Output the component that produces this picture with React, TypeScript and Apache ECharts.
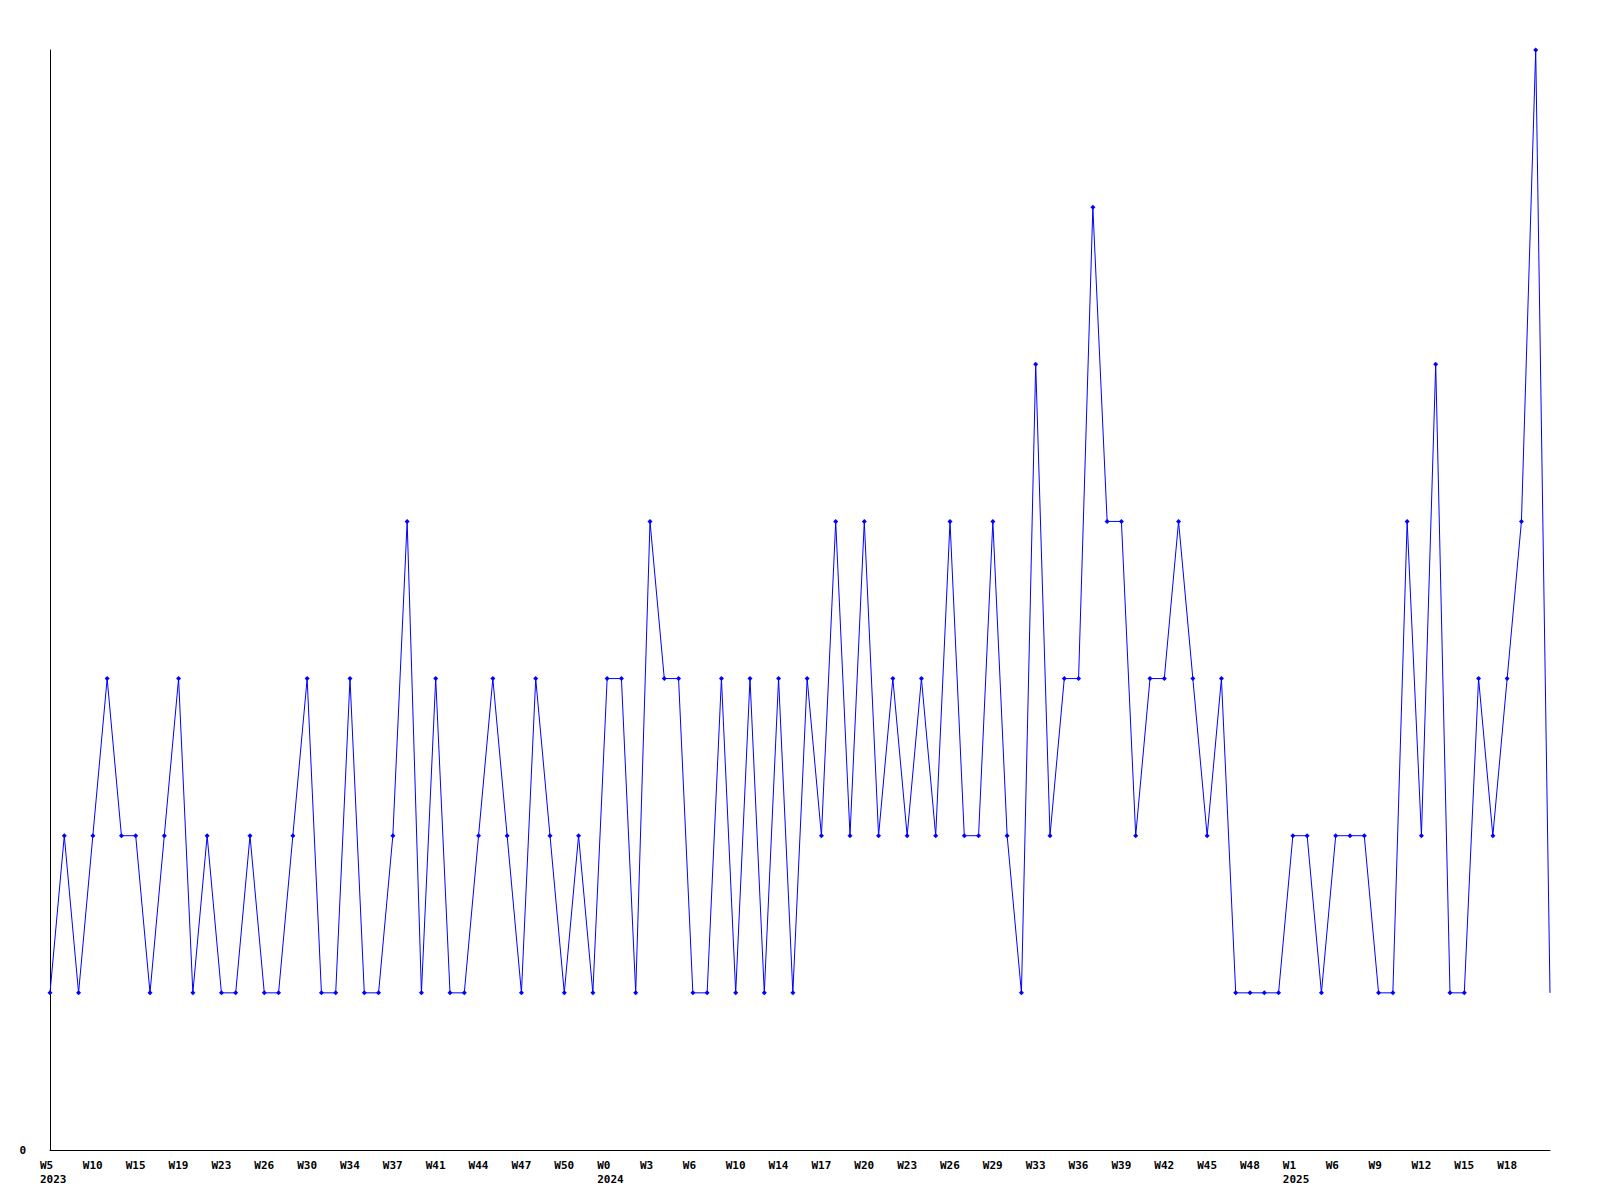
import React, { useEffect, useRef } from "react";
import * as echarts from "echarts";

const weeks2023 = ["W5","W6","W8","W10","W12","W13","W15","W17","W18","W19","W20","W22","W23","W24","W25","W26","W28","W29","W30","W32","W33","W34","W35","W36","W37","W39","W40","W41","W42","W43","W44","W45","W46","W47","W48","W49","W50","W51","W52"];
const weeks2024 = ["W0","W1","W2","W3","W4","W5","W6","W8","W9","W10","W12","W13","W14","W15","W16","W17","W18","W19","W20","W21","W22","W23","W24","W25","W26","W27","W28","W29","W31","W32","W33","W34","W35","W36","W37","W38","W39","W40","W41","W42","W43","W44","W45","W46","W47","W48","W50","W51"];
const weeks2025 = ["W1","W3","W5","W6","W7","W8","W9","W10","W11","W12","W13","W14","W15","W16","W17","W18","W19","W20","W21"];

const counts = [
  1,2,1,2,3,2,2,1,2,3,
  1,2,1,1,2,1,1,2,3,1,
  1,3,1,1,2,4,1,3,1,1,
  2,3,2,1,3,2,1,2,1,3,
  3,1,4,3,3,1,1,3,1,3,
  1,3,1,3,2,4,2,4,2,3,
  2,3,2,4,2,2,4,2,1,5,
  2,3,3,6,4,4,2,3,3,4,
  3,2,3,1,1,1,1,2,2,1,
  2,2,2,1,1,4,2,5,1,1,
  3,2,3,4,7,1,
];

const categories = [
  ...weeks2023.map((w) => "2023-" + w),
  ...weeks2024.map((w) => "2024-" + w),
  ...weeks2025.map((w) => "2025-" + w),
];

export default function App() {
  const ref = useRef<HTMLDivElement>(null);
  useEffect(() => {
    if (!ref.current) return;
    const chart = echarts.init(ref.current, null, { renderer: "svg" });
    const font = "'DejaVu Sans Mono', monospace";
    chart.setOption({
      animation: false,
      backgroundColor: "#ffffff",
      grid: { left: 50, right: 50, top: 50, bottom: 50, containLabel: false },
      xAxis: {
        type: "category",
        data: categories,
        boundaryGap: false,
        axisLine: { show: true, lineStyle: { color: "#000", width: 1 } },
        axisTick: { show: false },
        splitLine: { show: false },
        axisLabel: {
          interval: (i: number) => i % 3 === 0 && i < categories.length - 1,
          margin: 8,
          align: "left",
          padding: [0, 0, 0, -10],
          color: "#000",
          fontFamily: font,
          fontWeight: "bold",
          fontSize: 11,
          lineHeight: 14,
          formatter: (v: string, i: number) => {
            const [y, w] = v.split("-");
            const prev = i > 0 ? categories[i - 1].split("-")[0] : "";
            return prev !== y ? w + "\n" + y : w;
          },
        },
      },
      yAxis: {
        type: "value",
        min: 0,
        max: 7,
        interval: 7,
        axisLine: { show: true, lineStyle: { color: "#000", width: 1 } },
        axisTick: { show: false },
        splitLine: { show: false },
        axisLabel: {
          margin: 24,
          color: "#000",
          fontFamily: font,
          fontWeight: "bold",
          fontSize: 11,
          formatter: (v: number) => (v === 0 ? "0" : ""),
        },
      },
      series: [
        {
          type: "line",
          data: counts.map((c, i) =>
            i === counts.length - 1 ? { value: c, symbol: "none" } : c
          ),
          symbol: "diamond",
          symbolSize: 5,
          showSymbol: true,
          lineStyle: { color: "#0000ff", width: 1 },
          itemStyle: { color: "#0000ff" },
        },
      ],
    });
    return () => chart.dispose();
  }, []);
  return (
    <div
      ref={ref}
      style={{ position: "absolute", left: 0, top: 0, width: 1600, height: 1200, background: "#fff" }}
    />
  );
}
